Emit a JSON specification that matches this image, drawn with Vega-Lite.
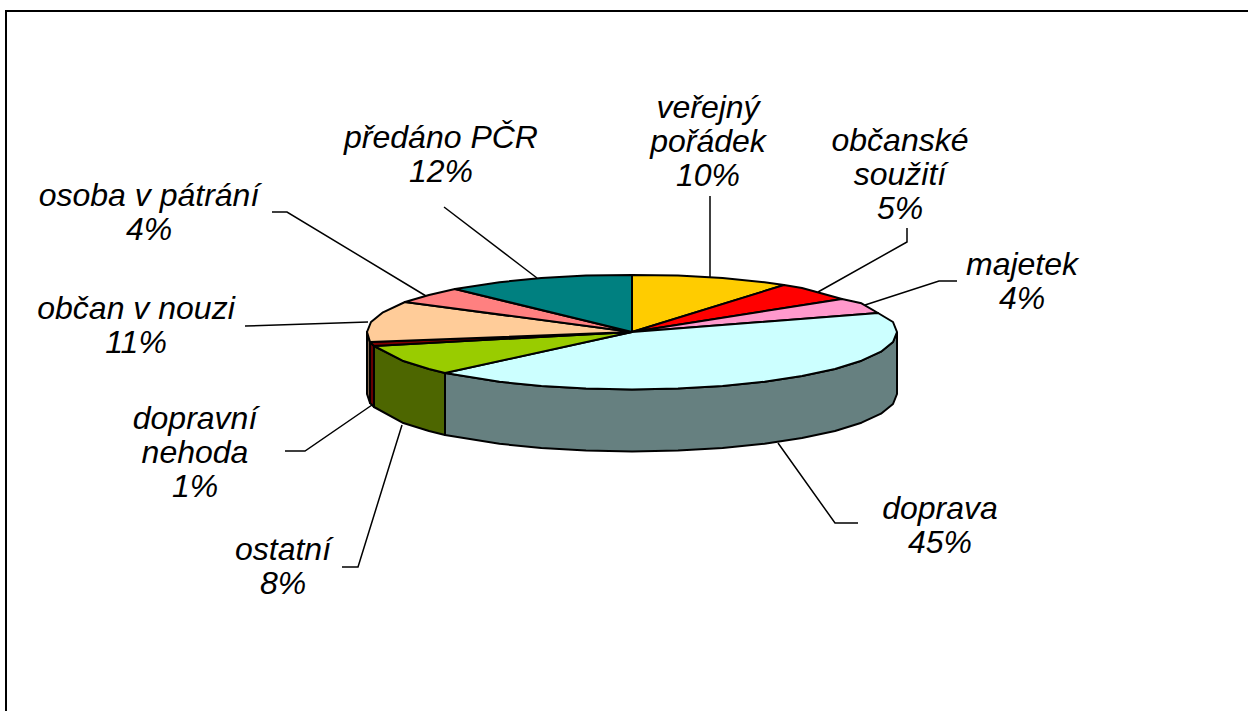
{"$schema":"https://vega.github.io/schema/vega-lite/v6.json","width":1248,"height":711,"autosize":{"type":"none"},"padding":0,"background":"white","view":{"stroke":null},
"datasets":{
"shapes":[
{"s":"doprava bok","i":0,"x":265,"y":0},{"s":"doprava bok","i":1,"x":261,"y":-10},{"s":"doprava bok","i":2,"x":249,"y":-19.7},{"s":"doprava bok","i":3,"x":229.5,"y":-28.7},{"s":"doprava bok","i":4,"x":203,"y":-37},{"s":"doprava bok","i":5,"x":170,"y":-44},{"s":"doprava bok","i":6,"x":132.5,"y":-49.8},{"s":"doprava bok","i":7,"x":90.6,"y":-54},{"s":"doprava bok","i":8,"x":46,"y":-56.6},{"s":"doprava bok","i":9,"x":0,"y":-57.5},{"s":"doprava bok","i":10,"x":-46,"y":-56.6},{"s":"doprava bok","i":11,"x":-90.6,"y":-54},{"s":"doprava bok","i":12,"x":-132.5,"y":-49.8},{"s":"doprava bok","i":13,"x":-187,"y":-41},{"s":"doprava bok","i":14,"x":-187,"y":-103},{"s":"doprava bok","i":15,"x":-132.5,"y":-111.8},{"s":"doprava bok","i":16,"x":-90.6,"y":-116},{"s":"doprava bok","i":17,"x":-46,"y":-118.6},{"s":"doprava bok","i":18,"x":0,"y":-119.5},{"s":"doprava bok","i":19,"x":46,"y":-118.6},{"s":"doprava bok","i":20,"x":90.6,"y":-116},{"s":"doprava bok","i":21,"x":132.5,"y":-111.8},{"s":"doprava bok","i":22,"x":170,"y":-106},{"s":"doprava bok","i":23,"x":203,"y":-99},{"s":"doprava bok","i":24,"x":229.5,"y":-90.7},{"s":"doprava bok","i":25,"x":249,"y":-81.7},{"s":"doprava bok","i":26,"x":261,"y":-72},{"s":"doprava bok","i":27,"x":265,"y":-62},{"s":"doprava bok","i":28,"x":265,"y":0},
{"s":"ostatní bok","i":0,"x":-187,"y":-41},{"s":"ostatní bok","i":1,"x":-203,"y":-37},{"s":"ostatní bok","i":2,"x":-229.5,"y":-28.7},{"s":"ostatní bok","i":3,"x":-258,"y":-14},{"s":"ostatní bok","i":4,"x":-258,"y":-75},{"s":"ostatní bok","i":5,"x":-229.5,"y":-90.7},{"s":"ostatní bok","i":6,"x":-203,"y":-99},{"s":"ostatní bok","i":7,"x":-187,"y":-103},{"s":"ostatní bok","i":8,"x":-187,"y":-41},
{"s":"nehoda bok","i":0,"x":-258,"y":-14},{"s":"nehoda bok","i":1,"x":-262,"y":-10},{"s":"nehoda bok","i":2,"x":-262,"y":-71},{"s":"nehoda bok","i":3,"x":-258,"y":-75},{"s":"nehoda bok","i":4,"x":-258,"y":-14},
{"s":"občan bok","i":0,"x":-262,"y":-10},{"s":"občan bok","i":1,"x":-265,"y":0},{"s":"občan bok","i":2,"x":-265,"y":-62},{"s":"občan bok","i":3,"x":-262,"y":-71},{"s":"občan bok","i":4,"x":-262,"y":-10},
{"s":"veřejný pořádek","i":0,"x":0,"y":0},{"s":"veřejný pořádek","i":1,"x":0,"y":57},{"s":"veřejný pořádek","i":2,"x":46,"y":56.6},{"s":"veřejný pořádek","i":3,"x":90.6,"y":54},{"s":"veřejný pořádek","i":4,"x":132.5,"y":49.8},{"s":"veřejný pořádek","i":5,"x":152,"y":47},{"s":"veřejný pořádek","i":6,"x":0,"y":0},
{"s":"občanské soužití","i":0,"x":0,"y":0},{"s":"občanské soužití","i":1,"x":152,"y":47},{"s":"občanské soužití","i":2,"x":170,"y":44},{"s":"občanské soužití","i":3,"x":210,"y":33},{"s":"občanské soužití","i":4,"x":0,"y":0},
{"s":"majetek","i":0,"x":0,"y":0},{"s":"majetek","i":1,"x":210,"y":33},{"s":"majetek","i":2,"x":229.5,"y":28.7},{"s":"majetek","i":3,"x":246,"y":19},{"s":"majetek","i":4,"x":0,"y":0},
{"s":"doprava","i":0,"x":0,"y":0},{"s":"doprava","i":1,"x":246,"y":19},{"s":"doprava","i":2,"x":261,"y":10},{"s":"doprava","i":3,"x":265,"y":0},{"s":"doprava","i":4,"x":261,"y":-10},{"s":"doprava","i":5,"x":249,"y":-19.7},{"s":"doprava","i":6,"x":229.5,"y":-28.7},{"s":"doprava","i":7,"x":203,"y":-37},{"s":"doprava","i":8,"x":170,"y":-44},{"s":"doprava","i":9,"x":132.5,"y":-49.8},{"s":"doprava","i":10,"x":90.6,"y":-54},{"s":"doprava","i":11,"x":46,"y":-56.6},{"s":"doprava","i":12,"x":0,"y":-57.5},{"s":"doprava","i":13,"x":-46,"y":-56.6},{"s":"doprava","i":14,"x":-90.6,"y":-54},{"s":"doprava","i":15,"x":-132.5,"y":-49.8},{"s":"doprava","i":16,"x":-187,"y":-41},{"s":"doprava","i":17,"x":0,"y":0},
{"s":"ostatní","i":0,"x":0,"y":0},{"s":"ostatní","i":1,"x":-187,"y":-41},{"s":"ostatní","i":2,"x":-203,"y":-37},{"s":"ostatní","i":3,"x":-229.5,"y":-28.7},{"s":"ostatní","i":4,"x":-258,"y":-14},{"s":"ostatní","i":5,"x":0,"y":0},
{"s":"dopravní nehoda","i":0,"x":0,"y":0},{"s":"dopravní nehoda","i":1,"x":-258,"y":-14},{"s":"dopravní nehoda","i":2,"x":-262,"y":-10},{"s":"dopravní nehoda","i":3,"x":0,"y":0},
{"s":"občan v nouzi","i":0,"x":0,"y":0},{"s":"občan v nouzi","i":1,"x":-262,"y":-10},{"s":"občan v nouzi","i":2,"x":-265,"y":0},{"s":"občan v nouzi","i":3,"x":-261,"y":10},{"s":"občan v nouzi","i":4,"x":-249,"y":19.7},{"s":"občan v nouzi","i":5,"x":-227,"y":30},{"s":"občan v nouzi","i":6,"x":0,"y":0},
{"s":"osoba v pátrání","i":0,"x":0,"y":0},{"s":"osoba v pátrání","i":1,"x":-227,"y":30},{"s":"osoba v pátrání","i":2,"x":-203,"y":37},{"s":"osoba v pátrání","i":3,"x":-177,"y":43},{"s":"osoba v pátrání","i":4,"x":0,"y":0},
{"s":"předáno PČR","i":0,"x":0,"y":0},{"s":"předáno PČR","i":1,"x":-177,"y":43},{"s":"předáno PČR","i":2,"x":-132.5,"y":49.8},{"s":"předáno PČR","i":3,"x":-90.6,"y":54},{"s":"předáno PČR","i":4,"x":-46,"y":56.6},{"s":"předáno PČR","i":5,"x":0,"y":57},{"s":"předáno PČR","i":6,"x":0,"y":0}
],
"leaders":[
{"l":"a","i":0,"x":78,"y":136},{"l":"a","i":1,"x":78,"y":55},
{"l":"b","i":0,"x":275,"y":104},{"l":"b","i":1,"x":275,"y":90},{"l":"b","i":2,"x":186,"y":40},
{"l":"c","i":0,"x":325,"y":51},{"l":"c","i":1,"x":307,"y":51},{"l":"c","i":2,"x":233,"y":27},
{"l":"d","i":0,"x":226,"y":-191},{"l":"d","i":1,"x":203,"y":-191},{"l":"d","i":2,"x":146,"y":-111},
{"l":"e","i":0,"x":-290,"y":-235},{"l":"e","i":1,"x":-274,"y":-235},{"l":"e","i":2,"x":-230,"y":-93},
{"l":"f","i":0,"x":-347,"y":-119},{"l":"f","i":1,"x":-327,"y":-119},{"l":"f","i":2,"x":-260,"y":-73},
{"l":"g","i":0,"x":-387,"y":6},{"l":"g","i":1,"x":-264,"y":10},
{"l":"h","i":0,"x":-360,"y":120},{"l":"h","i":1,"x":-345,"y":120},{"l":"h","i":2,"x":-206,"y":36},
{"l":"i","i":0,"x":-188,"y":125},{"l":"i","i":1,"x":-95,"y":54}
],
"frame":[{"i":0,"x":-626,"y":-379},{"i":1,"x":-626,"y":321},{"i":2,"x":616,"y":321}],
"labels":[
{"t":"veřejný\npořádek\n10%","x":76,"y":224},
{"t":"občanské\nsoužití\n5%","x":268,"y":191},
{"t":"majetek\n4%","x":390,"y":67},
{"t":"doprava\n45%","x":308,"y":-177},
{"t":"ostatní\n8%","x":-349,"y":-218},
{"t":"dopravní\nnehoda\n1%","x":-437,"y":-87},
{"t":"občan v nouzi\n11%","x":-496,"y":23},
{"t":"osoba v pátrání\n4%","x":-483,"y":136},
{"t":"předáno PČR\n12%","x":-191,"y":194}
]},
"layer":[
{"data":{"name":"frame"},"mark":{"type":"line","stroke":"black","strokeWidth":2},"encoding":{"x":{"field":"x","type":"quantitative","scale":{"domain":[-632,616]},"axis":null},"y":{"field":"y","type":"quantitative","scale":{"domain":[-379,332]},"axis":null},"order":{"field":"i"}}},
{"data":{"name":"leaders"},"mark":{"type":"line","stroke":"black","strokeWidth":1.5},"encoding":{"x":{"field":"x","type":"quantitative","scale":{"domain":[-632,616]},"axis":null},"y":{"field":"y","type":"quantitative","scale":{"domain":[-379,332]},"axis":null},"detail":{"field":"l"},"order":{"field":"i"}}},
{"data":{"name":"shapes"},"mark":{"type":"line","stroke":"black","strokeWidth":2,"strokeJoin":"round"},"encoding":{"x":{"field":"x","type":"quantitative","scale":{"domain":[-632,616]},"axis":null},"y":{"field":"y","type":"quantitative","scale":{"domain":[-379,332]},"axis":null},"fill":{"field":"s","type":"nominal","legend":null,"scale":{"domain":["doprava bok","ostatní bok","nehoda bok","občan bok","veřejný pořádek","občanské soužití","majetek","doprava","ostatní","dopravní nehoda","občan v nouzi","osoba v pátrání","předáno PČR"],"range":["#668080","#4d6600","#660000","#806650","#ffcc00","#ff0000","#ff99cc","#ccffff","#99cc00","#800000","#ffcc99","#ff8080","#008080"]}},"detail":{"field":"s"},"order":{"field":"i"}}},
{"data":{"name":"labels"},"mark":{"type":"text","font":"Liberation Sans","fontStyle":"italic","fontSize":32,"lineHeight":34,"lineBreak":"\n","align":"center","baseline":"middle","color":"black"},"encoding":{"x":{"field":"x","type":"quantitative","scale":{"domain":[-632,616]},"axis":null},"y":{"field":"y","type":"quantitative","scale":{"domain":[-379,332]},"axis":null},"text":{"field":"t"}}}
]}
